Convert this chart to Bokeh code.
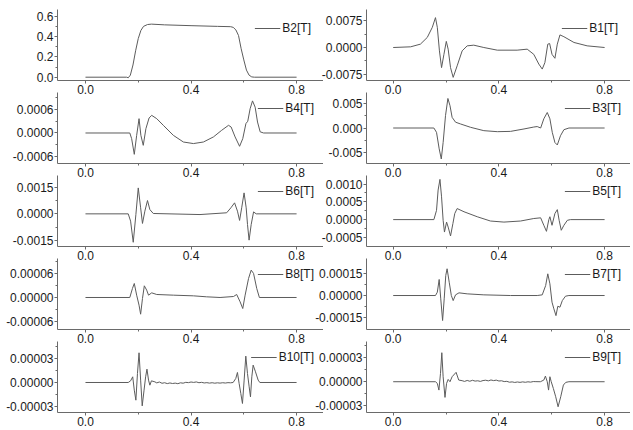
from bokeh.plotting import figure
from bokeh.models import Range1d, FixedTicker, PrintfTickFormatter, Legend, LegendItem
from bokeh.layouts import column, row
from bokeh.embed import file_html
from bokeh.resources import INLINE

# ---------------- data ----------------
b2_x = [0, 0.156, 0.162, 0.17, 0.18, 0.19, 0.2, 0.21, 0.22, 0.235, 0.25, 0.3, 0.4, 0.5, 0.55, 0.56, 0.57, 0.58, 0.59, 0.6, 0.61, 0.62, 0.63, 0.64, 0.8]
b2_y = [0, 0, -0.006, 0.02, 0.12, 0.26, 0.38, 0.46, 0.50, 0.518, 0.522, 0.515, 0.507, 0.5, 0.497, 0.49, 0.465, 0.41, 0.28, 0.17, 0.07, 0.02, 0.003, 0, 0]

b1_x = [0, 0.066, 0.103, 0.129, 0.148, 0.160, 0.167, 0.175, 0.183, 0.192, 0.201, 0.208, 0.217, 0.227, 0.242, 0.261, 0.28, 0.305, 0.343, 0.394, 0.469, 0.507, 0.532, 0.551, 0.564, 0.574, 0.585, 0.592, 0.601, 0.612, 0.621, 0.631, 0.646, 0.684, 0.734, 0.8]
b1_y = [0, 0.00019, 0.00093, 0.0028, 0.0056, 0.0083, 0.0056, -0.00093, -0.0056, -0.0019, 0.0017, -0.00046, -0.0056, -0.0083, -0.0051, -0.00093, 0.00046, 0.00065, 0.0, -0.00074, -0.00074, -0.00046, -0.0019, -0.0046, -0.006, -0.0042, 0.00093, 0.0011, -0.0019, -0.003, 0.00093, 0.0035, 0.003, 0.0014, 0.00046, 0.0]

b4_x = [0, 0.168, 0.175, 0.185, 0.194, 0.203, 0.21, 0.219, 0.229, 0.241, 0.251, 0.27, 0.295, 0.333, 0.371, 0.409, 0.447, 0.485, 0.516, 0.542, 0.552, 0.567, 0.584, 0.596, 0.608, 0.615, 0.624, 0.633, 0.643, 0.652, 0.662, 0.675, 0.8]
b4_y = [0, 0, -0.000145, -0.000545, -0.00006, 0.000366, -0.00006, -0.000315, 0.00011, 0.000383, 0.00045, 0.000366, 0.000196, -0.00006, -0.00023, -0.00027, -0.00023, -0.0001, 0.000068, 0.000196, 0.000153, -0.0001, -0.00034, -0.000145, 0.00024, 0.0003, 0.00062, 0.00082, 0.00066, 0.00028, 0.00003, 0, 0]

b3_x = [0, 0.154, 0.164, 0.174, 0.182, 0.189, 0.198, 0.207, 0.215, 0.223, 0.236, 0.255, 0.293, 0.343, 0.394, 0.444, 0.495, 0.532, 0.545, 0.558, 0.57, 0.583, 0.593, 0.602, 0.612, 0.621, 0.633, 0.646, 0.665, 0.8]
b3_y = [0, 0, -0.0009, -0.0043, -0.0064, -0.003, 0.00255, 0.0061, 0.0046, 0.0022, 0.0012, 0.00083, 0.00014, -0.00055, -0.00076, -0.0007, -0.0002, 0.0002, 0.0003, 0.0, 0.0019, 0.0032, 0.0019, -0.0009, -0.003, -0.0035, -0.0016, -0.00035, 0, 0]

b6_x = [0, 0.162, 0.171, 0.181, 0.191, 0.2, 0.209, 0.216, 0.225, 0.235, 0.244, 0.257, 0.434, 0.535, 0.551, 0.565, 0.576, 0.584, 0.592, 0.601, 0.609, 0.614, 0.62, 0.628, 0.637, 0.647, 0.8]
b6_y = [0, 0, -0.00041, -0.0016, -0.00004, 0.00146, 0.00034, -0.00054, 0.00015, 0.00075, 0.00024, 0.00002, -0.00004, 0.00006, 0.00034, 0.00062, 0.00015, -0.00037, 0.00034, 0.00118, 0.00034, -0.0006, -0.00148, -0.0006, 0.00011, 0, 0]

b5_x = [0, 0.154, 0.164, 0.17, 0.177, 0.183, 0.189, 0.194, 0.202, 0.208, 0.217, 0.226, 0.233, 0.242, 0.268, 0.318, 0.368, 0.419, 0.482, 0.532, 0.558, 0.57, 0.58, 0.589, 0.593, 0.601, 0.612, 0.621, 0.628, 0.636, 0.646, 0.659, 0.671, 0.8]
b5_y = [0, 0, 0.00026, 0.00083, 0.00113, 0.00064, -0.00002, -0.00035, -0.00007, -0.00021, -0.00046, -0.00011, 0.00017, 0.00031, 0.00022, 0.00008, -0.00004, -0.00007, -0.00004, 0.00003, 0.00005, -0.00016, -0.00033, 0, 0.00008, -0.00016, 0.00017, 0.00028, -0.00002, -0.0003, -0.00016, -0.00002, 0, 0]

b8_x = [0, 0.168, 0.178, 0.185, 0.194, 0.203, 0.209, 0.216, 0.223, 0.232, 0.239, 0.251, 0.27, 0.333, 0.409, 0.459, 0.51, 0.561, 0.573, 0.586, 0.596, 0.605, 0.618, 0.628, 0.637, 0.649, 0.659, 0.8]
b8_y = [0, 0, 2.28e-5, 3.55e-5, 5.9e-6, -1.94e-5, -4.23e-5, -2.5e-6, 2.96e-5, 1.86e-5, 5.9e-6, 1.18e-5, 7.6e-6, 5.9e-6, 4.2e-6, 1.7e-6, 0, 2.5e-6, 7.6e-6, -1.1e-5, -2.79e-5, 5.9e-6, 4.82e-5, 6.93e-5, 6.08e-5, 2.28e-5, 0, 0]

b7_x = [0, 0.16, 0.167, 0.174, 0.18, 0.187, 0.193, 0.199, 0.204, 0.212, 0.22, 0.227, 0.236, 0.249, 0.28, 0.343, 0.444, 0.545, 0.564, 0.577, 0.585, 0.593, 0.601, 0.608, 0.616, 0.623, 0.631, 0.64, 0.652, 0.665, 0.8]
b7_y = [0, 0, 2.3e-5, 0.000111, -2.3e-5, -0.000173, -2.3e-5, 0.000139, 0.000185, 9.2e-5, 0, -3.5e-5, 4.6e-6, 1.85e-5, 1.15e-5, 4.6e-6, 0, 0, 4.6e-6, 6.9e-5, 0.00015, 8.1e-5, -4.6e-5, -9.2e-5, -0.000139, -7.4e-5, -8.1e-5, -3.5e-5, -4.6e-6, 0, 0]

b10_x = [0, 0.162, 0.171, 0.179, 0.185, 0.191, 0.197, 0.203, 0.209, 0.215, 0.222, 0.228, 0.233, 0.239, 0.244, 0.25, 0.263,
         0.27, 0.28, 0.29, 0.30, 0.31, 0.32, 0.33, 0.34, 0.35, 0.36, 0.37, 0.38, 0.39, 0.40, 0.41, 0.42, 0.43, 0.44, 0.45,
         0.46, 0.47, 0.48, 0.49, 0.50, 0.51, 0.52, 0.53, 0.54, 0.55,
         0.5595, 0.5696, 0.5759, 0.5823, 0.5886, 0.5949, 0.6013, 0.6076, 0.6139, 0.6203, 0.6253, 0.6304, 0.6354, 0.6443, 0.6544, 0.6608, 0.8]
b10_y = [0, 0, 2.1e-6, 7.2e-6, -9.7e-6, -2.24e-5, 1.14e-5, 3.76e-5, 3.0e-6, -2.96e-5, -9.7e-6, 7.2e-6, 1.69e-5, 3.0e-6, -3.4e-6, 2.1e-6, 0.8e-6,
         -0.5e-6, 0.6e-6, -1.0e-6, -0.3e-6, -1.4e-6, -0.6e-6, -1.3e-6, -0.8e-6, -1.5e-6, -0.4e-6, -0.9e-6, 0.2e-6, -0.2e-6, 0.6e-6, 0.1e-6, 0.7e-6, -0.3e-6, 0.2e-6, -0.6e-6,
         -0.2e-6, -0.8e-6, -0.3e-6, -0.9e-6, -0.4e-6, -0.8e-6, -0.3e-6, -0.7e-6, -0.2e-6, -0.4e-6,
         0, 5.1e-6, 1.27e-5, -1.3e-6, -1.39e-5, -2.66e-5, 3.0e-6, 3.34e-5, 1.14e-5, -5.5e-6, -1.82e-5, 7.2e-6, 2.2e-5, 1.35e-5, 3.0e-6, 0, 0]

b9_x = [0, 0.16, 0.167, 0.173, 0.179, 0.184, 0.189, 0.196, 0.202, 0.208, 0.215, 0.223, 0.238, 0.248, 0.261,
        0.27, 0.28, 0.29, 0.30, 0.31, 0.32, 0.33, 0.34, 0.35, 0.36, 0.37, 0.38, 0.39, 0.40, 0.41, 0.42, 0.43, 0.44, 0.45,
        0.46, 0.47, 0.48, 0.49, 0.50, 0.51, 0.52, 0.53, 0.54,
        0.557, 0.57, 0.576, 0.583, 0.588, 0.593, 0.598, 0.606, 0.615, 0.624, 0.634, 0.644, 0.653, 0.665, 0.8]
b9_y = [0, 0, -2.1e-6, -1.05e-5, 1.05e-5, 3.65e-5, 6.3e-6, -1.97e-5, -2.1e-6, 2.9e-6, 0, 6.3e-6, 1.18e-5, 2.1e-6, 1.3e-6,
        0.4e-6, 1.6e-6, 0.6e-6, 1.8e-6, 0.8e-6, 1.2e-6, 0.4e-6, 1.5e-6, 1.9e-6, 1.1e-6, 2.2e-6, 1.4e-6, 2.0e-6, 0.9e-6, 1.2e-6, 0.2e-6, 0.5e-6, -0.6e-6, -0.2e-6,
        -0.9e-6, -0.3e-6, -0.8e-6, -0.2e-6, -0.7e-6, -0.1e-6, -0.5e-6, 0.2e-6, 0.1e-6,
        0, 2.1e-6, 7.1e-6, 0, -1.05e-5, 6.3e-6, 0, -8.4e-6, -1.89e-5, -3.15e-5, -1.89e-5, -4.2e-6, -0.8e-6, 0, 0]

x_ticks = [0.0, 0.4, 0.8]
x_minor = [0.2, 0.6]

# name, x, y, y-range, y major ticks, y minor ticks, label format
left_panels = [
    ("B2[T]", b2_x, b2_y, (-0.0325, 0.666), [0.0, 0.2, 0.4, 0.6], [0.1, 0.3, 0.5], "%.1f"),
    ("B4[T]", b4_x, b4_y, (-0.000779, 0.001034), [-0.0006, 0.0, 0.0006], [-0.0003, 0.0003, 0.0009], "%.4f"),
    ("B6[T]", b6_x, b6_y, (-0.001838, 0.002159), [-0.0015, 0.0, 0.0015], [-0.00075, 0.00075], "%.4f"),
    ("B8[T]", b8_x, b8_y, (-0.000081, 0.0000987), [-0.00006, 0.0, 0.00006], [-0.00003, 0.00003, 0.00009], "%.5f"),
    ("B10[T]", b10_x, b10_y, (-0.000038, 0.0000519), [-0.00003, 0.0, 0.00003], [-0.000015, 0.000015, 0.000045], "%.5f"),
]
right_panels = [
    ("B1[T]", b1_x, b1_y, (-0.00917, 0.01056), [-0.0075, 0.0, 0.0075], [-0.00375, 0.00375], "%.4f"),
    ("B3[T]", b3_x, b3_y, (-0.00733, 0.00733), [-0.005, 0.0, 0.005], [-0.0025, 0.0025], "%.3f"),
    ("B5[T]", b5_x, b5_y, (-0.000756, 0.001239), [-0.0005, 0.0, 0.0005, 0.001], [-0.00025, 0.00025, 0.00075], "%.4f"),
    ("B7[T]", b7_x, b7_y, (-0.000235, 0.000256), [-0.00015, 0.0, 0.00015], [-0.000075, 0.000075], "%.5f"),
    ("B9[T]", b9_x, b9_y, (-0.0000387, 0.0000506), [-0.00003, 0.0, 0.00003], [-0.000015, 0.000015, 0.000045], "%.5f"),
]

FONT = "Liberation Sans"
LINE = "#5c5c5c"
AXIS = "#6a6a6a"
TEXT = "#1a1a1a"

FRAME_H = 71
PITCH = 83
TOP_B = 6
BOT_B = 22


def make_panel(spec, left, idx, last):
    name, xs, ys, yr, yt, ym, fmt = spec
    frame_w = 266 if left else 264
    xr = (-0.106, 0.902) if left else (-0.101, 0.898)
    bb = 17 if last else BOT_B
    p = figure(width=56 + frame_w, height=TOP_B + FRAME_H + bb,
               x_range=Range1d(*xr), y_range=Range1d(*yr),
               output_backend="svg", toolbar_location=None,
               min_border_left=56, min_border_right=0,
               min_border_top=TOP_B, min_border_bottom=bb,
               background_fill_color=None, border_fill_color=None,
               outline_line_color=None)
    p.xgrid.visible = False
    p.ygrid.visible = False
    r = p.line(xs, ys, line_color=LINE, line_width=1)

    for ax, ticks, minor, f in ((p.xaxis[0], x_ticks, x_minor, "%.1f"),
                                (p.yaxis[0], yt, ym, fmt)):
        ax.ticker = FixedTicker(ticks=ticks, minor_ticks=minor)
        ax.formatter = PrintfTickFormatter(format=f)
        ax.axis_line_color = AXIS
        ax.major_tick_line_color = AXIS
        ax.minor_tick_line_color = AXIS
        ax.major_tick_out = 3
        ax.major_tick_in = 0
        ax.minor_tick_out = 2
        ax.minor_tick_in = 0
        ax.major_label_standoff = 1
        ax.major_label_text_font = FONT
        ax.major_label_text_font_size = "12px"
        ax.major_label_text_color = TEXT

    leg = Legend(items=[LegendItem(label=name, renderers=[r])],
                 location="top_right", margin=12 if idx == 0 else 9,
                 padding=0, spacing=0,
                 border_line_color=None, background_fill_alpha=0,
                 label_text_font=FONT, label_text_font_size="12px",
                 label_text_color=TEXT, glyph_width=26, glyph_height=14,
                 label_height=14, label_standoff=2)
    p.add_layout(leg)

    # the page body has no margin: place frames where the reference has them
    mt = 3 if idx == 0 else 0
    mb = 0 if last else PITCH - (TOP_B + FRAME_H + BOT_B)
    ml = 1 if left else 0
    p.margin = (mt, 0, mb, ml)
    return p


left_col = column(*[make_panel(s, True, i, i == 4) for i, s in enumerate(left_panels)], spacing=0)
right_col = column(*[make_panel(s, False, i, i == 4) for i, s in enumerate(right_panels)], spacing=0)
# the right column's tick labels tuck under the end of the left column's axes
left_col.margin = (0, -13, 0, 0)
layout = row(left_col, right_col, spacing=0)

open("out.html", "w").write(file_html(layout, INLINE))
